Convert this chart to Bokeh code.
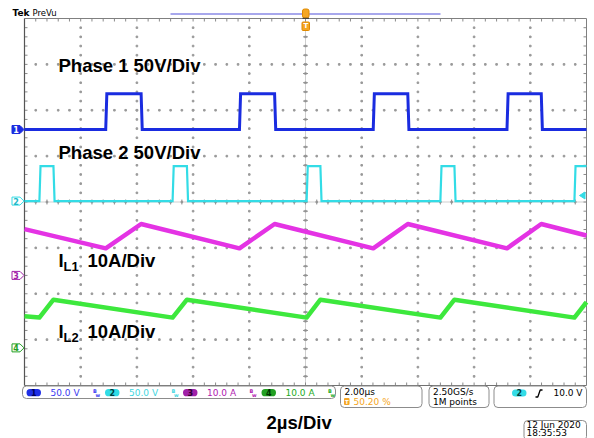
import numpy as np
from bokeh.plotting import figure
from bokeh.models import Range1d
from bokeh.embed import file_html
from bokeh.resources import INLINE
from bokeh.core.properties import value

# ---------------- data ----------------
ch_numbers = ["1", "2", "3", "4"]
ch_scale = [50.0, 50.0, 10.0, 10.0]          # units / division
ch_units = ["V", "V", "A", "A"]
ch_position_div = [1.58, 0.02, -1.60, -3.18]  # ground marker position (div)

# Phase 1 switch node (CH1): edge times in microseconds, high level in volts
ph1_rise_us = [-7.11, -2.35, 2.41, 7.17]
ph1_fall_us = [-5.85, -1.10, 3.64, 8.39]
ph1_high_v = 39.0
# Phase 2 switch node (CH2)
ph2_rise_us = [-9.47, -4.73, 0.04, 4.80, 9.57]
ph2_fall_us = [-8.97, -4.22, 0.53, 5.30]
ph2_high_v = 38.0

# Inductor currents (CH3, CH4): vertices time (us) / current (A)
il1_t_us = [-10.0, -7.11, -5.85, -2.35, -1.10, 2.41, 3.64, 7.17, 8.39, 10.0]
il1_a = [10.1, 5.9, 11.2, 5.9, 11.2, 5.9, 11.2, 5.9, 11.2, 8.7]
il2_t_us = [-10.0, -9.47, -8.97, -4.73, -4.22, 0.04, 0.53, 4.80, 5.30, 9.57, 10.0]
il2_a = [6.9, 6.6, 10.5, 6.6, 10.5, 6.6, 10.5, 6.6, 10.5, 6.6, 10.0]

time_per_div_us = 2.0
n_hdiv, n_vdiv = 10, 8
horiz_text = "2.00\u00b5s"
trig_pos_text = "50.20 %"
sample_text = ["2.50GS/s", "1M points"]
trig_level_text = "10.0 V"
date_text = ["12 Jun  2020", "18:35:53"]
label_texts = ["Phase 1 50V/Div", "Phase 2 50V/Div", "10A/Div", "10A/Div"]
timebase_label = "2\u00b5s/Div"

# ---------------- layout helpers ----------------
SX0, PX_US = 305.0, 28.1      # screen x of t=0, px per microsecond
SY0, PX_DIV = 201.5, 45.875   # screen y of 0 div, px per division
W, H = 594, 438


def X(sx):
    return (sx - SX0) / PX_US


def Y(sy):
    return (SY0 - sy) / PX_DIV


ch_colors = ["#1a2ce0", "#33dce6", "#e433e4", "#3de83d"]
bar_text_colors = ["#3a3af0", "#3fd6e0", "#b020b0", "#22aa22"]
oval_colors = ["#1f2fe6", "#30dce6", "#a020a8", "#22a022"]
oval_text_colors = ["#00005a", "#003c40", "#300030", "#003000"]

p = figure(width=W, height=H, x_range=Range1d(X(0), X(W)), y_range=Range1d(Y(H), Y(0)),
           output_backend="svg", toolbar_location=None, x_axis_type=None, y_axis_type=None,
           min_border=0, outline_line_color=None, background_fill_color="white",
           border_fill_color="white")
p.grid.visible = False

xl, xr = -n_hdiv / 2 * time_per_div_us, n_hdiv / 2 * time_per_div_us
yb, yt = -n_vdiv / 2, n_vdiv / 2
minor_x = np.arange(xl, xr + 1e-9, time_per_div_us / 5)[1:-1]
minor_y = np.arange(yb, yt + 1e-9, 0.2)[1:-1]
major_x = np.arange(xl + time_per_div_us, xr - 1e-9, time_per_div_us)
major_y = np.arange(yb + 1, yt - 1e-9, 1.0)

# center lines
p.line([0, 0], [yb, yt], color="#cfcfcf", line_width=1)
p.line([xl, xr], [0, 0], color="#cfcfcf", line_width=1)

# graticule dots
dx, dy = [], []
for mx in major_x:
    dx += [mx] * len(minor_y)
    dy += list(minor_y)
for my in major_y:
    dx += list(minor_x)
    dy += [my] * len(minor_x)
p.scatter(dx, dy, marker="square", size=1.6, color="#9a9a9a")

# border ticks
tl = 3.0
p.segment(x0=minor_x, y0=[yt] * len(minor_x), x1=minor_x, y1=[yt - tl / PX_DIV] * len(minor_x), color="#8a8a8a", line_width=1)
p.segment(x0=minor_x, y0=[yb] * len(minor_x), x1=minor_x, y1=[yb + tl / PX_DIV] * len(minor_x), color="#8a8a8a", line_width=1)
p.segment(x0=[xl] * len(minor_y), y0=minor_y, x1=[xl + tl / PX_US] * len(minor_y), y1=minor_y, color="#8a8a8a", line_width=1)
p.segment(x0=[xr] * len(minor_y), y0=minor_y, x1=[xr - tl / PX_US] * len(minor_y), y1=minor_y, color="#8a8a8a", line_width=1)
# center cross ticks
p.segment(x0=[-2.5 / PX_US] * len(minor_y), y0=minor_y, x1=[2.5 / PX_US] * len(minor_y), y1=minor_y, color="#909090", line_width=1)
p.segment(x0=minor_x, y0=[-2.5 / PX_DIV] * len(minor_x), x1=minor_x, y1=[2.5 / PX_DIV] * len(minor_x), color="#909090", line_width=1)
# border
p.line([xl, xr], [yt, yt], color="#808080", line_width=1)
p.line([xl, xr], [yb, yb], color="#707070", line_width=1)
p.line([xl, xl], [yb, yt], color="#555555", line_width=1.2)
p.line([xr, xr], [yb, yt], color="#808080", line_width=1)


def step_wave(rises, falls, high, t0, t1, edge=0.04):
    ev = sorted([(t, 1) for t in rises] + [(t, 0) for t in falls])
    level = 0.0 if ev[0][1] == 1 else high
    ts, vs = [t0], [level]
    for t, up in ev:
        new = high if up else 0.0
        ts += [t, t + edge]
        vs += [level, new]
        level = new
    ts.append(t1)
    vs.append(level)
    return ts, vs


def to_div(vals, ch):
    return [v / ch_scale[ch] + ch_position_div[ch] for v in vals]


t1, v1 = step_wave(ph1_rise_us, ph1_fall_us, ph1_high_v, xl, xr)
t2, v2 = step_wave(ph2_rise_us, ph2_fall_us, ph2_high_v, xl, xr)

p.line(il2_t_us, to_div(il2_a, 3), color=ch_colors[3], line_width=4.5, line_join="round")
p.line(il1_t_us, to_div(il1_a, 2), color=ch_colors[2], line_width=4.5, line_join="round")
p.line(t2, to_div(v2, 1), color=ch_colors[1], line_width=2.2, line_join="miter")
p.line(t1, to_div(v1, 0), color=ch_colors[0], line_width=3, line_join="miter")

# ground markers at the left
for i in range(4):
    gy = ch_position_div[i]
    xs = [X(11.5), X(19.5), X(23.5), X(19.5), X(11.5)]
    ys = [gy + 4 / PX_DIV, gy + 4 / PX_DIV, gy, gy - 4 / PX_DIV, gy - 4 / PX_DIV]
    if i == 0:
        p.patch(xs, ys, fill_color=ch_colors[0], line_color=ch_colors[0])
        tc = "white"
    else:
        p.patch(xs, ys, fill_color="white", line_color=oval_colors[i] if i > 1 else ch_colors[i], line_width=1)
        tc = oval_colors[i] if i > 1 else "#20b8c8"
    p.text(x=[X(15.5)], y=[gy], text=[ch_numbers[i]], text_font=value("DejaVu Sans"), text_font_size="8px",
           text_font_style="bold", text_color=tc, text_align="center", text_baseline="middle")

# trigger level marker (right)
p.patch([X(579), X(584.5), X(584.5)], [Y(195), Y(191.5), Y(198.5)], fill_color=ch_colors[1], line_color=ch_colors[1])


def txt(sx, sy, s, size, color="black", bold=False, font="DejaVu Sans", align="left"):
    # sy is the vertical centre of the text's capitals (screen px)
    p.text(x=[X(sx)], y=[Y(sy)], text=[s], text_font=value(font), text_font_size=f"{size}px",
           text_font_style="bold" if bold else "normal", text_color=color, text_align=align,
           text_baseline="middle")


def box(l, r, t, b, radius=4, color="#8c8c8c", fill=None):
    p.quad(left=[X(l)], right=[X(r)], top=[Y(t)], bottom=[Y(b)], border_radius=radius,
           fill_color=fill, line_color=color, line_width=1)


# big labels
LF = "Liberation Sans"
txt(58, 65, label_texts[0], 18.5, bold=True, font=LF)
txt(58, 151.7, label_texts[1], 18.5, bold=True, font=LF)
for k, (sy, sub) in enumerate([(260.2, "L1"), (331.3, "L2")]):
    txt(58, sy, "I", 18.5, bold=True, font=LF)
    txt(63, sy + 6, sub, 13, bold=True, font=LF)
    txt(87, sy, label_texts[2 + k], 18.5, bold=True, font=LF)
txt(266, 421.7, timebase_label, 18.5, bold=True, font=LF)

# header
txt(12, 12.5, "Tek", 9, bold=True)
txt(32, 12.5, "PreVu", 8.5)
p.line([X(170), X(440)], [Y(13.5), Y(13.5)], color="#8a8ae6", line_width=1.5)
p.quad(left=[X(302)], right=[X(308.5)], top=[Y(8.5)], bottom=[Y(17.5)], border_radius=2, fill_color="#f5a623", line_color="#e08a00")
p.line([X(302), X(308.5)], [Y(17.8), Y(17.8)], color="#333333", line_width=1)
p.quad(left=[X(301.5)], right=[X(309)], top=[Y(21.5)], bottom=[Y(30)], border_radius=1, fill_color="#f5a623", line_color="#e08a00")
txt(305.3, 25.8, "T", 7, color="white", bold=True, align="center")

# status bar: channels
box(22, 335, 385.5, 398)
oval_x = [26, 104.5, 182.5, 261]
for i in range(4):
    ox = oval_x[i]
    p.quad(left=[X(ox)], right=[X(ox + 14.5)], top=[Y(388.5)], bottom=[Y(395.8)], border_radius=4,
           fill_color=oval_colors[i], line_color=None)
    txt(ox + 7.3, 392.2, ch_numbers[i], 8, color=oval_text_colors[i], bold=True, align="center")
    txt(ox + 24, 392.2, f"{ch_scale[i]:.1f} {ch_units[i]}", 9, color=bar_text_colors[i])
    txt(ox + 66.5, 390.3, "B", 5, color=bar_text_colors[i], bold=True)
    txt(ox + 69, 394, "w", 5, color=bar_text_colors[i], bold=True)

# horizontal box
box(340, 421.5, 385.5, 407)
txt(344, 391.8, horiz_text, 9)
p.quad(left=[X(343.5)], right=[X(349)], top=[Y(397.5)], bottom=[Y(404.5)], border_radius=1, fill_color="#f5a623", line_color=None)
txt(346.3, 401.0, "T", 5.5, color="white", bold=True, align="center")
txt(353, 401.2, trig_pos_text, 9, color="#f5a623")

# acquisition box
box(428.5, 488.5, 385.5, 407)
txt(432.5, 391.8, sample_text[0], 9)
txt(432.5, 401.2, sample_text[1], 9)

# trigger box
box(493.5, 586, 385.5, 407)
p.quad(left=[X(511.5)], right=[X(526)], top=[Y(389)], bottom=[Y(396)], border_radius=4, fill_color=ch_colors[1], line_color=None)
txt(518.8, 392.4, ch_numbers[1], 8, color="#003c40", bold=True, align="center")
p.line([X(535), X(537.3), X(539.7), X(542)], [Y(396.5), Y(396.5), Y(389.5), Y(389.5)], color="black", line_width=1.3)
txt(582, 392.2, trig_level_text, 9, align="right")

# date box
box(523.5, 586, 420, 440)
txt(526, 424.5, date_text[0], 9)
txt(526, 432.8, date_text[1], 9)

open("out.html", "w").write(file_html(p, INLINE))
